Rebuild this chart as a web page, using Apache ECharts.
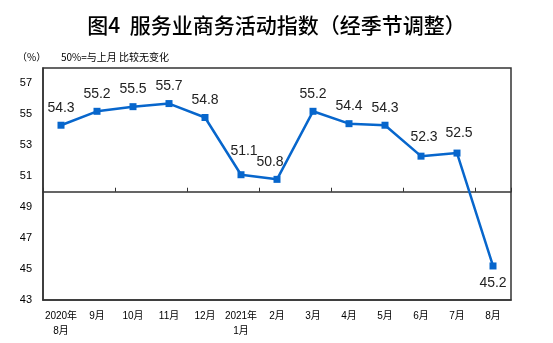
<!DOCTYPE html>
<html>
<head>
<meta charset="utf-8">
<script src="https://cdn.jsdelivr.net/npm/echarts@6/dist/echarts.min.js"></script>
<style>
  html, body { margin: 0; padding: 0; background: #fff; }
  #chart { width: 553px; height: 343px; }
</style>
</head>
<body>
<div id="chart"></div>
<script>
// Monthly services business activity index, seasonally adjusted (%)
const months = ['2020年\n8月', '9月', '10月', '11月', '12月', '2021年\n1月', '2月', '3月', '4月', '5月', '6月', '7月', '8月'];
const indexValues = [54.3, 55.2, 55.5, 55.7, 54.8, 51.1, 50.8, 55.2, 54.4, 54.3, 52.3, 52.5, 45.2];
const yTicks = [43, 45, 47, 49, 51, 53, 55, 57];

const Y_MIN = 43, Y_MAX = 58, Y_STEP = 2, BASELINE = 50;
const GRID = { left: 43, top: 68, width: 468, height: 232 };
const NUM_FONT = '"Liberation Sans", Arial, "Noto Sans CJK SC", sans-serif';
const CJK_FONT = '"Noto Sans CJK SC", "Liberation Sans", sans-serif';
const LINE_BLUE = '#0766cc';

// per-point label placement tweaks so labels don't collide with the line
const labelTweaks = {
  5: { offset: [3, -6] },
  6: { offset: [-7, 0] },
  10: { offset: [3, -2] },
  11: { offset: [2, -2] },
  12: { position: 'bottom' }
};

const seriesData = indexValues.map((v, i) => {
  const item = { value: v };
  if (labelTweaks[i]) item.label = labelTweaks[i];
  return item;
});

// pixel distance from grid top down to the 50% line
const baselineOffset = GRID.height * (Y_MAX - BASELINE) / (Y_MAX - Y_MIN);

const chart = echarts.init(document.getElementById('chart'), null, { renderer: 'canvas' });
chart.setOption({
  animation: false,
  backgroundColor: '#fff',
  title: [
    {
      text: '图4  服务业商务活动指数（经季节调整）',
      left: 'center',
      top: 10,
      textStyle: { fontFamily: CJK_FONT, fontSize: 21, fontWeight: 500, color: '#000' }
    },
    {
      text: '（%）',
      left: 12,
      top: 47,
      textStyle: { fontFamily: CJK_FONT, fontSize: 10, fontWeight: 'normal', color: '#000' }
    },
    {
      text: '50%=与上月 比较无变化',
      left: 56,
      top: 47,
      textStyle: { fontFamily: CJK_FONT, fontSize: 10, fontWeight: 'normal', color: '#000' }
    }
  ],
  grid: {
    left: GRID.left, top: GRID.top, width: GRID.width, height: GRID.height,
    show: true, borderColor: '#333', borderWidth: 1.5, backgroundColor: 'transparent'
  },
  xAxis: [
    {
      type: 'category',
      data: months,
      boundaryGap: true,
      position: 'bottom',
      axisLine: { show: true, lineStyle: { color: '#333', width: 1.5 } },
      axisTick: { show: false },
      axisLabel: {
        interval: 0, margin: 9, fontSize: 10, lineHeight: 15,
        color: '#000', fontFamily: NUM_FONT
      },
      splitLine: { show: false }
    },
    {
      // the 50% reference line, with category ticks pointing upward
      type: 'category',
      data: months,
      boundaryGap: true,
      position: 'top',
      offset: -baselineOffset,
      axisLine: { show: true, lineStyle: { color: '#333', width: 1.5 } },
      axisTick: { show: true, inside: false, length: 4, lineStyle: { color: '#333', width: 1 } },
      axisLabel: { show: false },
      splitLine: { show: false }
    }
  ],
  yAxis: {
    type: 'value',
    min: Y_MIN,
    max: Y_MAX,
    interval: Y_STEP,
    axisLine: { show: true, lineStyle: { color: '#333', width: 1.5 } },
    axisTick: { show: false },
    splitLine: { show: false },
    axisLabel: {
      margin: 11, fontSize: 11, color: '#000', fontFamily: NUM_FONT,
      showMaxLabel: false,
      formatter: v => (yTicks.includes(v) ? String(v) : '')
    }
  },
  series: [{
    type: 'line',
    xAxisIndex: 0,
    data: seriesData,
    symbol: 'rect',
    symbolSize: 7,
    itemStyle: { color: LINE_BLUE },
    lineStyle: { color: LINE_BLUE, width: 2.5 },
    label: {
      show: true,
      position: 'top',
      distance: 7,
      fontSize: 14,
      color: '#222',
      fontFamily: NUM_FONT,
      formatter: p => p.value.toFixed(1)
    }
  }]
});
</script>
</body>
</html>
